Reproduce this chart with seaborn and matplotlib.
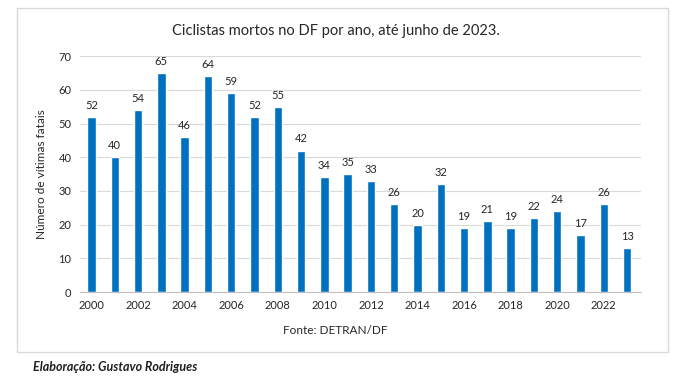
import numpy as np
import pandas as pd
import matplotlib.pyplot as plt
import seaborn as sns
from matplotlib.patches import Rectangle

# === Data ===
years = list(range(2000, 2024))
deaths = [52, 40, 54, 65, 46, 64, 59, 52, 55, 42, 34, 35, 33, 26, 20, 32,
          19, 21, 19, 22, 24, 17, 26, 13]
y_ticks = [0, 10, 20, 30, 40, 50, 60, 70]

df = pd.DataFrame({"Ano": [str(y) for y in years], "Mortos": deaths})

# === Style ===
sns.set_style("white")
plt.rcParams["font.family"] = ["Lato", "DejaVu Sans"]

fig = plt.figure(figsize=(6.82, 3.86), dpi=100)
ax = fig.add_axes([0.117, 0.2435, 0.823, 0.611])

sns.barplot(data=df, x="Ano", y="Mortos", color="#0070C0", width=0.36,
            saturation=1, ax=ax)

for i, v in enumerate(deaths):
    ax.text(i, v + 1.8, str(v), ha="center", va="bottom", fontsize=8, color="#262626")

ax.set_ylim(0, 70)
ax.set_yticks(y_ticks)
ax.set_xlim(-0.5, 23.6)
ax.set_xticks(range(0, 24, 2))
ax.set_xticklabels([str(y) for y in years[::2]])
ax.yaxis.grid(True, color="#d9d9d9", linewidth=0.8)
ax.set_axisbelow(True)
for s in ["top", "right", "left"]:
    ax.spines[s].set_visible(False)
ax.spines["bottom"].set_color("#bfbfbf")
ax.tick_params(axis="both", length=0, labelsize=8, colors="#262626", pad=6)
ax.set_xlabel("")
ax.set_ylabel("Número de vítimas fatais", fontsize=8.5, color="#262626", labelpad=8)

fig.text(0.493, 0.92, "Ciclistas mortos no DF por ano, até junho de 2023.",
         ha="center", va="center", fontsize=10.5, color="#262626")
fig.text(0.492, 0.145, "Fonte: DETRAN/DF", ha="center", va="center",
         fontsize=8.5, color="#262626")
fig.text(0.048, 0.049, "Elaboração: Gustavo Rodrigues", ha="left", va="center",
         fontsize=9, fontweight="bold", style="italic", color="#1f1f1f")

fig.patches.append(Rectangle((0.025, 0.088), 0.954, 0.891, transform=fig.transFigure,
                             fill=False, edgecolor="#d9d9d9", linewidth=1))

fig.savefig("out.png", dpi=100)
